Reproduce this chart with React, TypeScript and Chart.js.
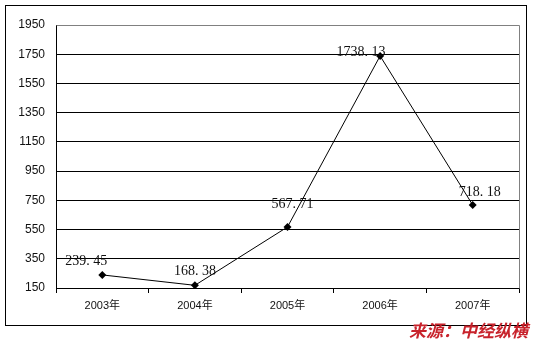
import React, { useEffect, useRef } from "react";
import { Chart, registerables } from "chart.js";

Chart.register(...registerables);

const categories = ["2003年", "2004年", "2005年", "2006年", "2007年"];
const values = [239.45, 168.38, 567.71, 1738.13, 718.18];
const valueLabels = ["239. 45", "168. 38", "567. 71", "1738. 13", "718. 18"];
const labelOffsets = [[-16, -14], [0, -14], [5, -23], [-19, -4], [7, -13]];
const yMin = 150;
const yMax = 1950;
const yStep = 200;

const framePlugin = {
  id: "frame",
  beforeDraw(chart: any) {
    const ctx = chart.ctx;
    ctx.save();
    ctx.fillStyle = "#ffffff";
    ctx.fillRect(0, 0, chart.width, chart.height);
    ctx.strokeStyle = "#000000";
    ctx.lineWidth = 1;
    ctx.strokeRect(5.5, 5.5, 521, 320);
    ctx.restore();
  },
  afterDatasetsDraw(chart: any) {
    const ctx = chart.ctx;
    const a = chart.chartArea;
    ctx.save();
    ctx.strokeStyle = "#808080";
    ctx.lineWidth = 1;
    ctx.beginPath();
    ctx.moveTo(Math.round(a.left) + 0.5, Math.round(a.top) + 0.5);
    ctx.lineTo(Math.round(a.right) + 0.5, Math.round(a.top) + 0.5);
    ctx.lineTo(Math.round(a.right) + 0.5, Math.round(a.bottom) + 0.5);
    ctx.stroke();
    // data labels
    const meta = chart.getDatasetMeta(0);
    ctx.fillStyle = "#111111";
    ctx.font = "14px 'Liberation Serif', 'Noto Sans CJK SC', serif";
    ctx.textAlign = "center";
    ctx.textBaseline = "middle";
    meta.data.forEach((pt: any, i: number) => {
      const off = labelOffsets[i];
      ctx.fillText(valueLabels[i], pt.x + off[0], pt.y + off[1]);
    });
    // source text
    ctx.fillStyle = "#c8232c";
    ctx.font = "italic bold 17px 'Noto Sans CJK SC', sans-serif";
    ctx.textAlign = "right";
    ctx.textBaseline = "middle";
    ctx.fillText("来源：中经纵横", 528, 331);
    ctx.restore();
  },
};

export default function App() {
  const ref = useRef<HTMLCanvasElement>(null);
  useEffect(() => {
    if (!ref.current) return;
    const chart = new Chart(ref.current, {
      type: "line",
      data: {
        labels: categories,
        datasets: [
          {
            data: values,
            borderColor: "#000000",
            borderWidth: 1,
            backgroundColor: "#000000",
            pointStyle: "rectRot",
            pointRadius: 4,
            pointBorderWidth: 0,
            tension: 0,
            fill: false,
          },
        ],
      },
      options: {
        animation: false,
        responsive: false,
        devicePixelRatio: 1,
        layout: { padding: { left: 0, top: 25, right: 17, bottom: 24 } },
        plugins: { legend: { display: false }, tooltip: { enabled: false } },
        scales: {
          x: {
            offset: true,
            grid: {
              offset: true,
              drawOnChartArea: false,
              drawTicks: true,
              tickLength: 5,
              color: "#000000",
            },
            border: { color: "#000000" },
            ticks: {
              color: "#111111",
              padding: 6,
              font: { family: "'Liberation Sans', 'Noto Sans CJK SC', sans-serif", size: 11 },
              maxRotation: 0,
            },
            afterFit(scale: any) {
              scale.height = 32;
            },
          },
          y: {
            min: yMin,
            max: yMax,
            ticks: {
              stepSize: yStep,
              color: "#111111",
              padding: 11,
              font: { family: "'Liberation Sans', sans-serif", size: 12 },
              callback: (v: any) => String(v),
            },
            grid: {
              color: "#000000",
              drawTicks: false,
            },
            border: { color: "#000000" },
            afterFit(scale: any) {
              scale.width = 56;
            },
          },
        },
      },
      plugins: [framePlugin],
    });
    return () => chart.destroy();
  }, []);
  return (
    <div style={{ position: "absolute", left: 0, top: 0, width: 536, height: 344 }}>
      <canvas ref={ref} width={536} height={344} style={{ width: 536, height: 344 }} />
    </div>
  );
}
